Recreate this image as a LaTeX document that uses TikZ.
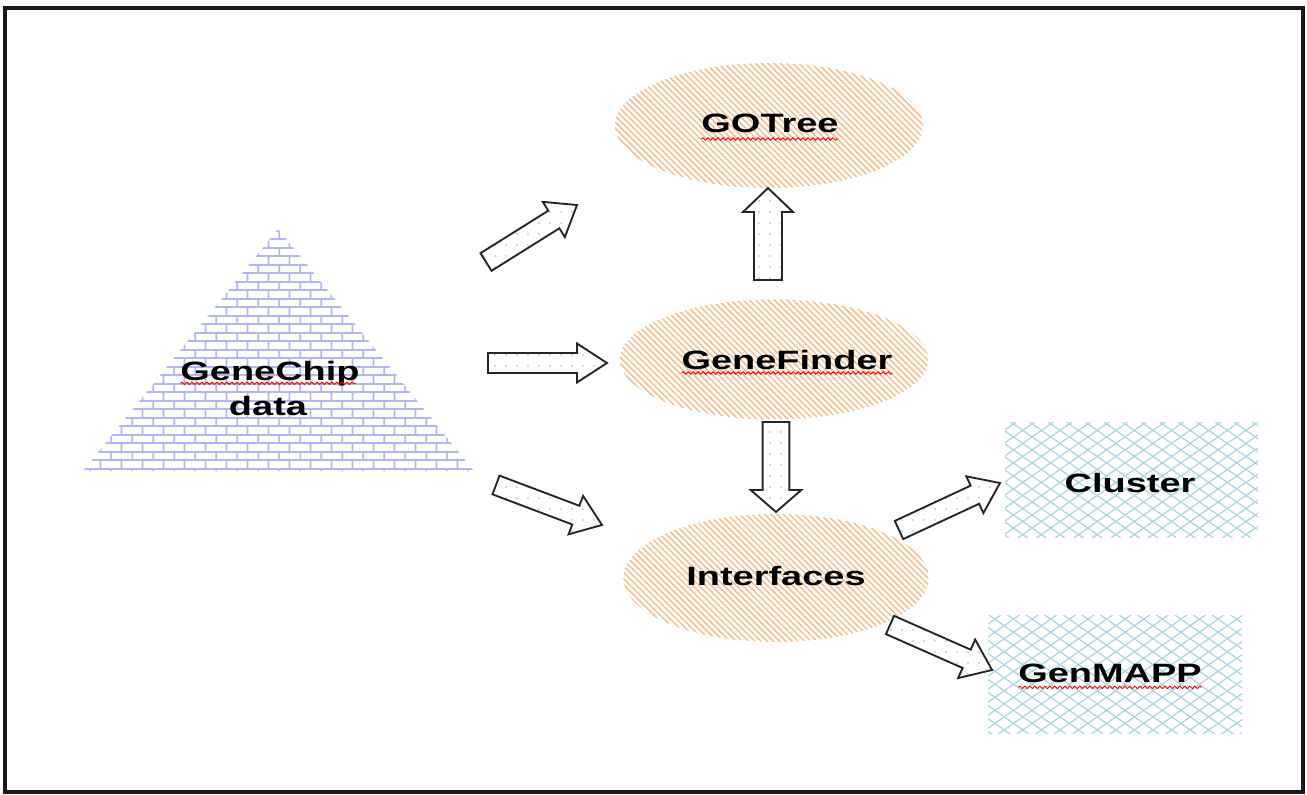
\documentclass[tikz,border=0pt]{standalone}
\usepackage{fontspec}
\newfontfamily\lblfont[FakeStretch=1.43]{Liberation Sans}
\usetikzlibrary{calc,shapes.geometric,patterns.meta,decorations.pathmorphing}

\definecolor{brick}{RGB}{180,180,248}
\definecolor{hatchc}{RGB}{250,184,126}
\definecolor{crossc}{RGB}{168,214,222}
\definecolor{dotc}{RGB}{120,195,215}

\pgfdeclarepattern{
  name=MyBricks,
  type=uncolored,
  bottom left={\pgfpoint{0pt}{0pt}},
  top right={\pgfpoint{16pt}{12.4pt}},
  tile size={\pgfpoint{16pt}{12.4pt}},
  code={
    \pgfsetlinewidth{1.3pt}
    \pgfpathmoveto{\pgfpoint{-1pt}{3.1pt}}\pgfpathlineto{\pgfpoint{17pt}{3.1pt}}
    \pgfpathmoveto{\pgfpoint{-1pt}{9.3pt}}\pgfpathlineto{\pgfpoint{17pt}{9.3pt}}
    \pgfpathmoveto{\pgfpoint{4pt}{3.1pt}}\pgfpathlineto{\pgfpoint{4pt}{9.3pt}}
    \pgfpathmoveto{\pgfpoint{12pt}{9.3pt}}\pgfpathlineto{\pgfpoint{12pt}{13pt}}
    \pgfpathmoveto{\pgfpoint{12pt}{-1pt}}\pgfpathlineto{\pgfpoint{12pt}{3.1pt}}
    \pgfusepath{stroke}
  }
}

\newcommand\blockarrow[5]{%
  \path ($(#2)!#5!(#1)$) coordinate (bh);
  \draw[barrow] ($(#1)!#3!90:(#2)$) -- ($(bh)!#3!90:(#2)$) -- ($(bh)!#4!90:(#2)$)
    -- (#2) -- ($(bh)!#4!-90:(#2)$) -- ($(bh)!#3!-90:(#2)$) -- ($(#1)!#3!-90:(#2)$) -- cycle;
}

\tikzset{
  hatchell/.style={ellipse, draw=none, inner sep=0pt, outer sep=0pt,
    pattern={Lines[angle=-45,distance=3.3pt,line width=1.0pt]}, pattern color=hatchc},
  crossbox/.style={rectangle, draw=none, inner sep=0pt, outer sep=0pt,
    pattern={Lines[angle=35,distance=8pt,line width=0.9pt]}, pattern color=crossc,
    postaction={pattern={Lines[angle=-35,distance=8pt,line width=0.9pt]}, pattern color=crossc}},
  barrow/.style={draw=black!85, line width=1.4pt, line join=miter,
    preaction={fill=white}, pattern={Dots[distance=8.25pt,radius=0.7pt]}, pattern color=dotc},
  lbl/.style={font=\lblfont\bfseries\fontsize{19.9pt}{26pt}\selectfont, inner sep=0pt, outer sep=0pt, text=black},
  squig/.style={draw=red, line width=0.7pt, decorate,
    decoration={snake, segment length=3.75pt, amplitude=0.9pt}}
}

\begin{document}
\begin{tikzpicture}[x=0.75pt,y=-0.75pt]
\useasboundingbox (0,0) rectangle (1307,795);
\fill[white] (0,0) rectangle (1307,795);
\draw[line width=2.3pt, black!90] (5,8) rectangle (1303,792);

% GeneChip triangle
\coordinate (tA) at (278,229);
\coordinate (tL) at (83,471);
\coordinate (tR) at (474,471);
\path[pattern=MyBricks, pattern color=brick] (tA) -- (tR) -- (tL) -- cycle;

% ellipses
\node[hatchell, minimum width=231pt, minimum height=93.75pt] (GO) at (769,125.5) {};
\node[hatchell, minimum width=231pt, minimum height=90pt] (GF) at (774,359.5) {};
\node[hatchell, minimum width=229pt, minimum height=96pt] (IF) at (776,578) {};

% boxes
\node[crossbox, minimum width=189.75pt, minimum height=86.25pt] (CL) at (1131.5,479.5) {};
\node[crossbox, minimum width=190.5pt, minimum height=88.5pt] (GM) at (1115,674) {};

% labels
\node[lbl, anchor=base] (tGO) at (770,133) {GOTree};
\node[lbl, anchor=base] (tGC1) at (270,380) {GeneChip};
\node[lbl, anchor=base] (tGC2) at (268,415) {data};
\node[lbl, anchor=base] (tGF) at (787,369) {GeneFinder};
\node[lbl, anchor=base] (tIF) at (776,585) {Interfaces};
\node[lbl, anchor=base] (tCL) at (1130,492) {Cluster};
\node[lbl, anchor=base] (tGM) at (1110,682) {GenMAPP};

% spelling squiggles
\draw[squig] ([yshift=-4.5pt]tGO.base west) -- ([yshift=-4.5pt]tGO.base east);
\draw[squig] ([yshift=-2.5pt]tGC1.base west) -- ([yshift=-2.5pt,xshift=-3pt]tGC1.base east);
\draw[squig] ([yshift=-3pt]tGF.base west) -- ([yshift=-3pt]tGF.base east);
\draw[squig] ([yshift=-4pt]tGM.base west) -- ([yshift=-4pt]tGM.base east);

% arrow end points
\coordinate (a1s) at (486,262); \coordinate (a1e) at (577,205);
\coordinate (a2s) at (488,363); \coordinate (a2e) at (607,363);
\coordinate (a3s) at (496,485); \coordinate (a3e) at (602,525);
\coordinate (a4s) at (768,280); \coordinate (a4e) at (768,188);
\coordinate (a5s) at (776,422); \coordinate (a5e) at (776,512);
\coordinate (a6s) at (899,530); \coordinate (a6e) at (1000,483);
\coordinate (a7s) at (890,625); \coordinate (a7e) at (992,670);

\blockarrow{a1s}{a1e}{7.8pt}{15.6pt}{20.5pt}
\blockarrow{a2s}{a2e}{7.5pt}{14.6pt}{22.5pt}
\blockarrow{a3s}{a3e}{7.5pt}{15.4pt}{21pt}
\blockarrow{a4s}{a4e}{10.5pt}{18.75pt}{18pt}
\blockarrow{a5s}{a5e}{10pt}{19pt}{16.5pt}
\blockarrow{a6s}{a6e}{7.5pt}{15.2pt}{20.8pt}
\blockarrow{a7s}{a7e}{7.5pt}{15.8pt}{20.8pt}
\end{tikzpicture}
\end{document}
